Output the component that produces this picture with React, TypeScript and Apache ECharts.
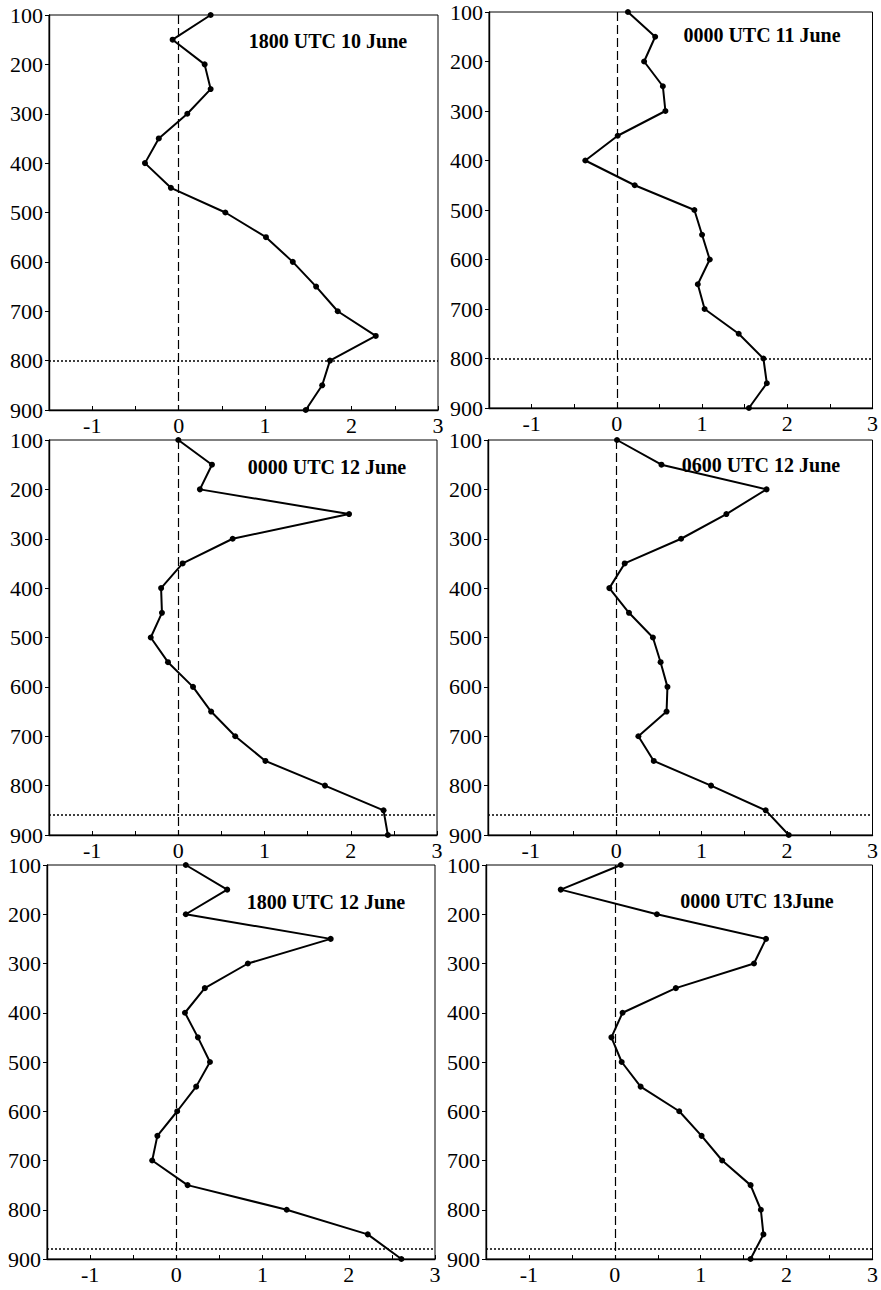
import React, { useEffect, useRef } from "react";
import * as echarts from "echarts";

const levels = [100, 150, 200, 250, 300, 350, 400, 450, 500, 550, 600, 650, 700, 750, 800, 850, 900];

const titles = [
  "1800 UTC 10 June",
  "0000 UTC 11 June",
  "0000 UTC 12 June",
  "0600 UTC 12 June",
  "1800 UTC 12 June",
  "0000 UTC 13June",
];

const s1 = [0.37, -0.07, 0.30, 0.37, 0.10, -0.23, -0.39, -0.09, 0.54, 1.01, 1.32, 1.59, 1.84, 2.28, 1.75, 1.66, 1.47];
const s2 = [0.13, 0.45, 0.32, 0.54, 0.57, 0.01, -0.37, 0.21, 0.91, 1.00, 1.09, 0.95, 1.03, 1.43, 1.72, 1.76, 1.55];
const s3 = [0.00, 0.39, 0.25, 1.98, 0.63, 0.05, -0.20, -0.19, -0.32, -0.12, 0.17, 0.38, 0.66, 1.01, 1.70, 2.38, 2.43];
const s4 = [0.01, 0.53, 1.76, 1.29, 0.76, 0.10, -0.08, 0.15, 0.43, 0.52, 0.60, 0.59, 0.26, 0.44, 1.11, 1.75, 2.02];
const s5 = [0.11, 0.59, 0.11, 1.79, 0.83, 0.33, 0.10, 0.25, 0.39, 0.23, 0.01, -0.22, -0.28, 0.13, 1.28, 2.22, 2.61];
const s6 = [0.07, -0.63, 0.49, 1.76, 1.62, 0.71, 0.09, -0.04, 0.08, 0.30, 0.75, 1.01, 1.25, 1.58, 1.70, 1.73, 1.58];

const seriesValues = [s1, s2, s3, s4, s5, s6];
const boundaryLevels = [800, 800, 858, 858, 880, 880];

const xTicks = { min: -1.5, max: 3, interval: 0.5 };
const yTicks = { min: 100, max: 900, interval: 100 };

// layout (pixels)
const grids = [
  { left: 49, top: 15, width: 389, height: 395 },
  { left: 489, top: 12, width: 388, height: 396 },
  { left: 49, top: 440, width: 388, height: 395 },
  { left: 488, top: 440, width: 389, height: 395 },
  { left: 47, top: 865, width: 388, height: 394 },
  { left: 486, top: 865, width: 387, height: 394 },
];
const titlePos = [
  [328, 41],
  [762, 35],
  [327, 467],
  [761, 465],
  [326, 902],
  [757, 901],
];

const FONT = "'Liberation Serif', 'Times New Roman', serif";

export default function App() {
  const ref = useRef<HTMLDivElement>(null);
  useEffect(() => {
    if (!ref.current) return;
    const chart = echarts.init(ref.current, null, { renderer: "svg" });
    const option: any = {
      animation: false,
      backgroundColor: "#fff",
      grid: grids.map((g) => ({
        ...g,
        show: true,
        borderColor: "#000",
        borderWidth: 1,
        backgroundColor: "transparent",
        containLabel: false,
      })),
      xAxis: grids.map((_, i) => ({
        type: "value",
        gridIndex: i,
        min: xTicks.min,
        max: xTicks.max,
        interval: xTicks.interval,
        axisLine: { show: true, onZero: false, lineStyle: { color: "#000", width: 1.4 } },
        axisTick: { show: true, inside: true, length: 4, lineStyle: { color: "#000" } },
        splitLine: { show: false },
        axisLabel: {
          color: "#000",
          fontFamily: FONT,
          fontSize: 22,
          margin: 4,
          showMinLabel: true,
          showMaxLabel: true,
          formatter: (v: number) => (Number.isInteger(v) ? String(v) : ""),
        },
      })),
      yAxis: grids.map((_, i) => ({
        type: "value",
        gridIndex: i,
        inverse: true,
        min: yTicks.min,
        max: yTicks.max,
        interval: yTicks.interval,
        axisLine: { show: true, onZero: false, lineStyle: { color: "#000", width: 1.4 } },
        axisTick: { show: true, inside: false, length: 4, lineStyle: { color: "#000" } },
        splitLine: { show: false },
        axisLabel: {
          color: "#000",
          fontFamily: FONT,
          fontSize: 22,
          margin: 6,
        },
      })),
      series: seriesValues.map((vals, i) => ({
        type: "line",
        xAxisIndex: i,
        yAxisIndex: i,
        data: vals.map((v, k) => [v, levels[k]]),
        symbol: "circle",
        symbolSize: 6,
        clip: false,
        lineStyle: { color: "#000", width: 2 },
        itemStyle: { color: "#000" },
        markLine: {
          silent: true,
          symbol: "none",
          label: { show: false },
          data: [
            { xAxis: 0, lineStyle: { type: [9, 4], color: "#000", width: 1.2 } },
            { yAxis: boundaryLevels[i], lineStyle: { type: [2, 2], color: "#000", width: 1.6 } },
          ],
        },
      })),
      graphic: titles.map((t, i) => ({
        type: "text",
        x: titlePos[i][0],
        y: titlePos[i][1],
        style: {
          text: t,
          fontFamily: FONT,
          fontWeight: "bold",
          fontSize: 20,
          fill: "#000",
          textAlign: "center",
          textVerticalAlign: "middle",
        },
        z: 10,
      })),
    };
    chart.setOption(option);
    return () => chart.dispose();
  }, []);
  return (
    <div
      ref={ref}
      style={{ position: "absolute", left: 0, top: 0, width: 881, height: 1290, background: "#fff" }}
    />
  );
}
